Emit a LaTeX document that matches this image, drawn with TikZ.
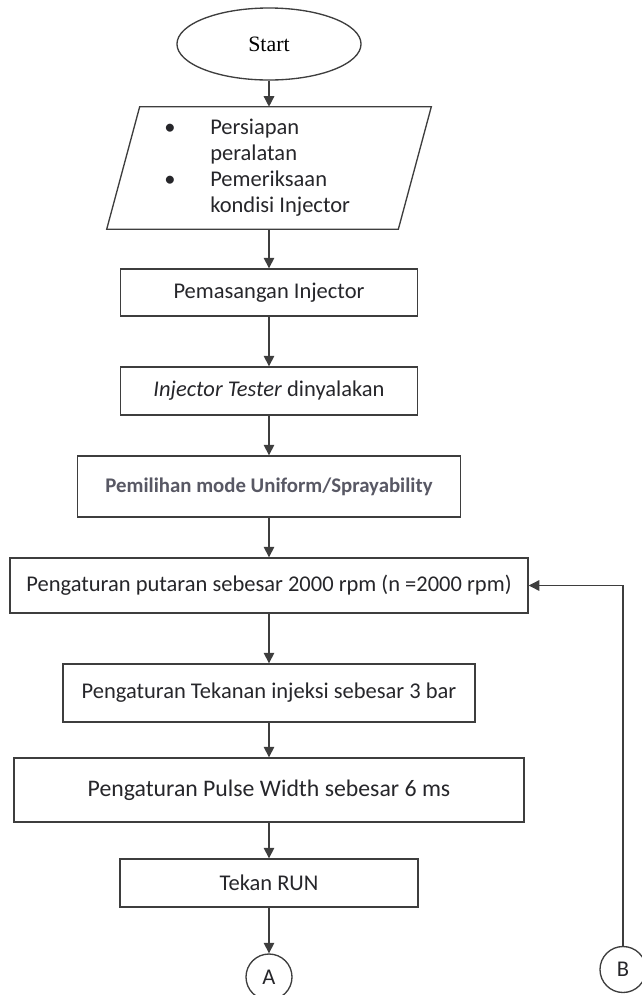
\documentclass[tikz,border=0pt]{standalone}
\usepackage{fontspec}
\setmainfont{Carlito}
\newfontfamily\startfont{Liberation Serif}
\usetikzlibrary{shapes.geometric, arrows.meta, positioning}

\definecolor{garis}{RGB}{62,62,62}
\definecolor{teks}{RGB}{38,38,42}
\definecolor{abu}{RGB}{88,88,100}

\tikzset{
  proses/.style={draw=garis, line width=0.95pt, rectangle, align=center, text=teks, inner sep=0pt, font=\fontsize{16}{18.5}\selectfont},
  panah/.style={draw=garis, line width=0.95pt, -{Triangle[length=7.5pt,width=7.5pt]}},
  konektor/.style={draw=garis, line width=0.95pt, circle, minimum size=1.15cm, inner sep=0pt, text=teks, font=\fontsize{16}{18.5}\selectfont}
}

\begin{document}
\begin{tikzpicture}[x=0.025cm, y=-0.025cm]
    \useasboundingbox (0,0) rectangle (641,995);
    % awal dan persiapan
    \node[draw=garis, line width=0.95pt, ellipse, minimum width=4.6cm, minimum height=1.8cm, inner sep=0pt, font=\startfont\fontsize{15.6}{18}\selectfont] (start) at (269,44) {Start};
    \node[minimum width=7.275cm, minimum height=3.05cm, inner sep=0pt] (siap) at (269,168) {};
    \draw[garis, line width=0.95pt] ([xshift=0.4125cm]siap.north west) -- ([xshift=0.4125cm]siap.north east)
        -- ([xshift=-0.4125cm]siap.south east) -- ([xshift=-0.4125cm]siap.south west) -- cycle;
    \node[anchor=west, inner sep=0pt, text=teks, font=\fontsize{16}{18.5}\selectfont] (siapteks) at (164,168) {\begin{tabular}{@{}p{1.15cm}@{}l@{}}
      \textbullet & Persiapan\\
                  & peralatan\\
      \textbullet & Pemeriksaan\\
                  & kondisi Injector
    \end{tabular}};
    % langkah pengujian
    \node[proses, minimum width=7.425cm, minimum height=1.175cm] (pasang) at (269,292.5) {Pemasangan Injector};
    \node[proses, minimum width=7.425cm, minimum height=1.2cm] (tester) at (269,391) {\textit{Injector Tester} dinyalakan};
    \node[proses, minimum width=9.575cm, minimum height=1.525cm, text=abu, font=\bfseries\fontsize{14.8}{17}\selectfont] (mode) at (269,486.5) {Pemilihan mode Uniform/Sprayability};
    \node[proses, minimum width=12.95cm, minimum height=1.375cm] (putaran) at (269,585.5) {Pengaturan putaran sebesar 2000 rpm (n =2000 rpm)};
    \node[proses, minimum width=10.3cm, minimum height=1.45cm] (tekanan) at (269,693) {Pengaturan Tekanan injeksi sebesar 3 bar};
    \node[proses, minimum width=12.75cm, minimum height=1.6cm, font=\fontsize{16.9}{20}\selectfont] (pulse) at (269,790) {Pengaturan Pulse Width sebesar 6 ms};
    \node[proses, minimum width=7.45cm, minimum height=1.2cm] (run) at (269,883) {Tekan RUN};
    \node[konektor] (A) at (269,977) {A};
    \node[konektor] (B) at (623,969.5) {B};
    % alur
    \draw[panah] (start) -- (siap);
    \draw[panah] (siap) -- (pasang);
    \draw[panah] (pasang) -- (tester);
    \draw[panah] (tester) -- (mode);
    \draw[panah] (mode) -- (putaran);
    \draw[panah] (putaran) -- (tekanan);
    \draw[panah] (tekanan) -- (pulse);
    \draw[panah] (pulse) -- (run);
    \draw[panah] (run) -- (A);
    \draw[panah] (B) |- (putaran.east);
\end{tikzpicture}
\end{document}
